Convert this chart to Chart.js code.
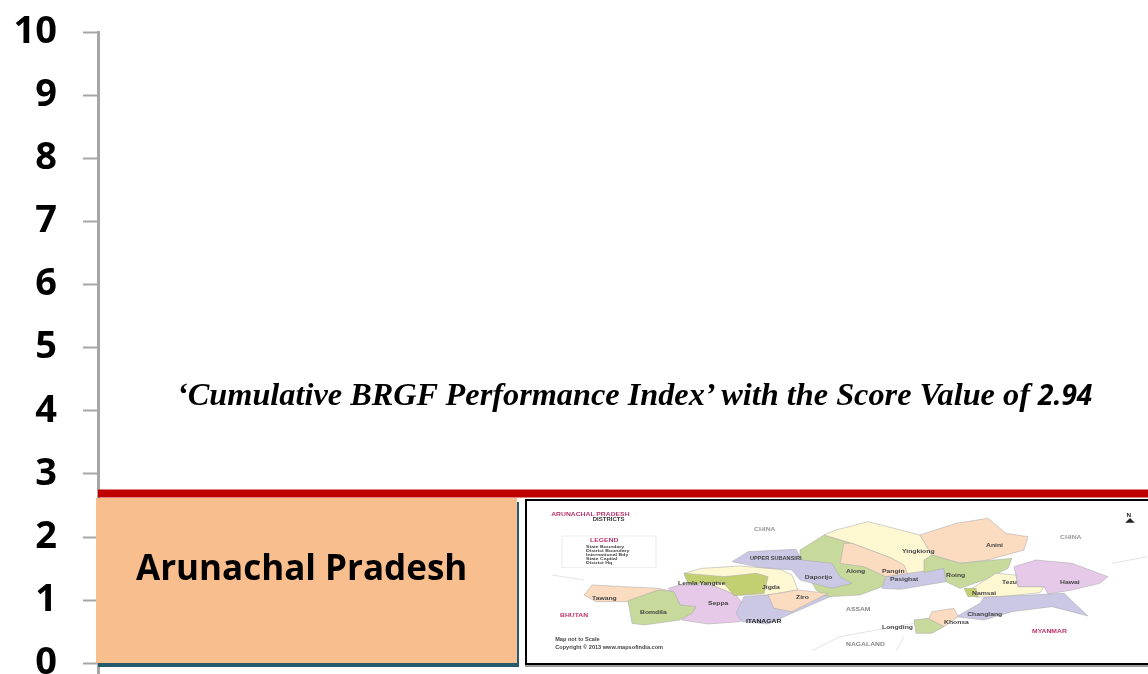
<!DOCTYPE html>
<html>
<head>
<meta charset="utf-8">
<title>Cumulative BRGF Performance Index</title>
<script src="https://cdn.jsdelivr.net/npm/chart.js@4/dist/chart.umd.min.js"></script>
<style>
  html, body { margin: 0; padding: 0; background: #fff; overflow: hidden; }
  #wrap { position: relative; width: 1148px; height: 674px; overflow: hidden; }
  canvas { position: absolute; left: 0; top: 0; }
  #caption {
    position: absolute; left: 177px; top: 375px; white-space: nowrap;
    font: italic bold 32.3px "Liberation Serif", serif; color: #000;
  }
  #caption b { font: italic bold 28px "Open Sans", sans-serif; }
  #stateBox {
    position: absolute; left: 96px; top: 498px; width: 421px; height: 165px;
    background: #f9be8d; box-shadow: 2px 4px 0 #245a6b;
  }
  #stateBox span {
    position: absolute; left: 40px; top: 45px; white-space: nowrap;
    font: bold 35px "Open Sans", sans-serif; color: #000;
  }
  #mapBox {
    position: absolute; left: 525px; top: 499px; width: 640px; height: 162px;
    border: 2px solid #000; box-shadow: 0 2px 0 #999; background: #fff;
  }
  #map { position: absolute; left: 0; top: 0; }
  #map text { font-family: "Liberation Sans", sans-serif; font-weight: bold; fill: #444; }
</style>
</head>
<body>
<div id="wrap">
  <canvas id="chart" width="1148" height="674"></canvas>
  <div id="caption">‘Cumulative BRGF Performance Index’ with the Score Value of <b>2.94</b></div>
  <div id="stateBox"><span>Arunachal Pradesh</span></div>
  <div id="mapBox"></div>
  <svg id="map" width="1148" height="674" viewBox="0 0 1148 674">
    <defs><filter id="soft"><feGaussianBlur stdDeviation="0.7"></feGaussianBlur></filter></defs>
    <g transform="translate(520,480) scale(0.4,0.3333)" filter="url(#soft)" stroke="#aaa" stroke-width="1.5">
      <path fill="none" stroke="#ccc" d="M80 285 L160 300 M1480 250 L1568 230 M730 512 L800 470 L985 430 M940 512 L960 470"></path>
      <polygon fill="#fbdcc0" points="160,345 180,315 260,320 345,325 385,335 350,345 270,365 190,365"></polygon>
      <polygon fill="#e6c9e8" points="370,325 400,315 480,315 540,345 565,385 550,425 470,432 405,420 440,385 400,375 385,340"></polygon>
      <polygon fill="#c8d99c" points="270,362 345,330 385,335 400,375 440,380 430,400 400,420 310,435 280,430 275,395"></polygon>
      <polygon fill="#fdf7d2" points="455,265 550,258 650,268 680,285 695,330 620,345 540,345 480,315 420,310 410,280"></polygon>
      <polygon fill="#c4cf72" points="410,280 510,290 590,280 620,290 610,340 535,347 510,310 420,310"></polygon>
      <polygon fill="#c8d99c" points="700,210 760,165 830,190 860,260 915,290 905,320 850,345 770,350 740,330 700,240"></polygon>
      <polygon fill="#cbc8e6" points="530,245 570,215 690,208 705,240 780,250 800,290 830,310 780,325 700,300 680,270 600,262"></polygon>
      <polygon fill="#cbc8e6" points="560,350 625,345 635,385 680,385 760,345 775,350 680,400 620,432 555,425 540,400"></polygon>
      <polygon fill="#fbdcc0" points="620,345 695,330 770,340 680,395 635,385"></polygon>
      <polygon fill="#fdf7d2" points="790,150 870,125 1000,165 1030,225 1010,280 950,285 930,235 830,190 760,165"></polygon>
      <polygon fill="#fbdcc0" points="1000,165 1090,130 1170,115 1215,160 1270,170 1260,210 1170,240 1100,250 1030,225"></polygon>
      <polygon fill="#fbdcc0" points="810,190 830,190 930,235 960,255 970,285 915,290 860,260 800,250"></polygon>
      <polygon fill="#cbc8e6" points="915,290 1000,275 1060,265 1065,305 950,328 905,325"></polygon>
      <polygon fill="#c8d99c" points="1010,240 1030,225 1100,250 1230,235 1220,265 1160,300 1100,325 1065,305 1060,265 1010,278"></polygon>
      <polygon fill="#fdf7d2" points="1130,325 1190,280 1240,285 1245,320 1310,320 1300,338 1220,348 1140,352"></polygon>
      <polygon fill="#e6c9e8" points="1235,260 1290,240 1380,250 1470,290 1450,310 1380,330 1320,342 1310,320 1245,320 1240,285"></polygon>
      <polygon fill="#c4cf72" points="1110,325 1140,325 1145,350 1120,350"></polygon>
      <polygon fill="#cbc8e6" points="1150,370 1160,352 1230,348 1360,340 1420,408 1330,380 1230,395 1160,420 1090,410"></polygon>
      <polygon fill="#fbdcc0" points="1030,395 1085,385 1095,410 1060,440 1020,420"></polygon>
      <polygon fill="#c8d99c" points="985,420 1020,415 1060,440 1030,460 990,460"></polygon>
      <rect x="105" y="168" width="235" height="95" fill="none" stroke="#ddd"></rect>
      <g stroke="none" font-size="17">
        <text x="78" y="108" style="fill:#b8336a">ARUNACHAL PRADESH</text>
        <text x="182" y="124" font-size="15" style="fill:#333">DISTRICTS</text>
        <text x="585" y="154" style="fill:#999">CHINA</text>
        <text x="1350" y="176" style="fill:#999">CHINA</text>
        <text x="175" y="186" style="fill:#b8336a">LEGEND</text>
        <text x="165" y="203" font-size="13">State Boundary</text>
        <text x="165" y="215" font-size="13">District Boundary</text>
        <text x="165" y="227" font-size="13">International Bdy</text>
        <text x="165" y="239" font-size="13">State Capital</text>
        <text x="165" y="251" font-size="13">District Hq</text>
        <text x="575" y="241" font-size="14">UPPER SUBANSIRI</text>
        <text x="955" y="220">Yingkiong</text>
        <text x="1165" y="202">Anini</text>
        <text x="815" y="280">Along</text>
        <text x="905" y="278">Pangin</text>
        <text x="925" y="303">Pasighat</text>
        <text x="1065" y="290">Roing</text>
        <text x="712" y="296">Daporijo</text>
        <text x="395" y="315">Lemla Yangtse</text>
        <text x="605" y="326">Jigda</text>
        <text x="180" y="360">Tawang</text>
        <text x="300" y="403">Bomdila</text>
        <text x="470" y="375">Seppa</text>
        <text x="690" y="358">Ziro</text>
        <text x="1205" y="312">Tezu</text>
        <text x="1350" y="312">Hawai</text>
        <text x="1130" y="346">Namsai</text>
        <text x="1118" y="409">Changlang</text>
        <text x="1060" y="432">Khonsa</text>
        <text x="905" y="448">Longding</text>
        <text x="565" y="428" style="fill:#222">ITANAGAR</text>
        <text x="815" y="394" style="fill:#888">ASSAM</text>
        <text x="100" y="412" style="fill:#b8336a">BHUTAN</text>
        <text x="1280" y="459" style="fill:#b8336a">MYANMAR</text>
        <text x="815" y="498" style="fill:#888">NAGALAND</text>
        <text x="88" y="484" font-size="14">Map not to Scale</text>
        <text x="88" y="506" font-size="14">Copyright © 2013 www.mapsofindia.com</text>
        <text x="1516" y="112" font-size="16" style="fill:#222">N</text>
      </g>
      <polygon fill="#222" stroke="none" points="1525,114 1537,128 1513,128"></polygon>
    </g>
  </svg>
</div>
<script>
const yTicks = [0, 1, 2, 3, 4, 5, 6, 7, 8, 9, 10];
const xRange = [0, 1];
const scoreLine = [2.69, 2.69];

const points = xRange.map((x, i) => ({ x: x, y: scoreLine[i] }));

new Chart(document.getElementById("chart"), {
  type: "line",
  data: {
    datasets: [{
      data: points,
      borderColor: "#c00000",
      borderWidth: 8,
      pointRadius: 0,
      clip: false
    }]
  },
  options: {
    responsive: false,
    animation: false,
    layout: { padding: { top: 32, left: 0, right: 0, bottom: 0 } },
    plugins: { legend: { display: false }, tooltip: { enabled: false } },
    scales: {
      x: { type: "linear", display: false, min: 0, max: 1 },
      y: {
        min: -0.17, // axis line runs on a little below 0
        max: 10,
        afterBuildTicks: (scale) => { scale.ticks = yTicks.map(v => ({ value: v })); },
        afterFit: (scale) => {
          scale.width = 98;
          scale.paddingTop = 0;
          scale.paddingBottom = 0;
        },
        border: { color: "#a6a6a6", width: 3 },
        grid: { drawOnChartArea: false, drawTicks: true, tickLength: 15, tickColor: "#a6a6a6", tickWidth: 2 },
        ticks: {
          autoSkip: false,
          padding: 26,
          color: "#000",
          font: { family: "'Open Sans', sans-serif", weight: "bold", size: 38, lineHeight: 1 }
        }
      }
    }
  }
});
</script>
</body>
</html>
